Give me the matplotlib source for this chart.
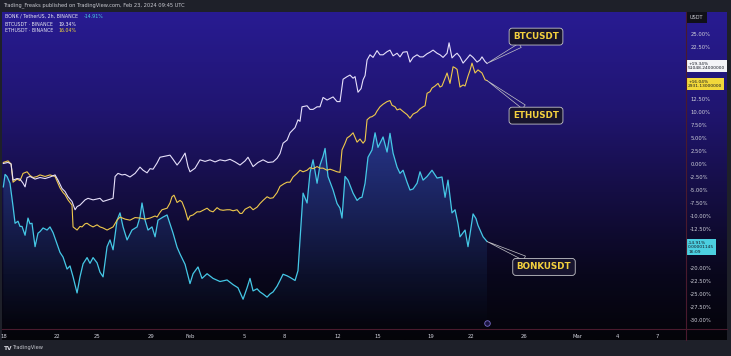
import matplotlib
matplotlib.use("Agg")
import matplotlib.pyplot as plt
import numpy as np
from matplotlib.lines import Line2D
from matplotlib.transforms import blended_transform_factory

# ---------------- data (days since 18 Jan 2024, % change) ----------------
BTC_POINTS = [
    (-0.05, 0.1), (0.30, 0.3), (0.53, 0.0), (0.68, -3.1), (0.98, -2.8), (1.20, -2.9),
    (1.43, -3.7), (1.58, -4.4), (1.73, -2.6), (1.95, -2.4), (2.33, -2.9), (2.70, -2.6),
    (3.08, -2.8), (3.45, -2.5), (3.83, -2.1), (4.05, -3.1), (4.35, -4.7), (4.58, -5.3),
    (4.80, -6.3), (5.10, -7.2), (5.33, -8.8), (5.48, -8.2), (5.70, -7.9), (6.08, -6.9),
    (6.30, -6.6), (6.68, -6.9), (7.20, -6.6), (7.43, -7.2), (7.80, -6.9), (8.18, -6.6),
    (8.33, -2.4), (8.55, -1.8), (8.85, -2.1), (9.08, -2.0), (9.45, -2.5), (9.83, -1.8),
    (10.20, -0.6), (10.43, -1.2), (10.73, -1.7), (10.95, -0.9), (11.18, -1.0), (11.48, 0.2),
    (11.70, 1.3), (12.08, 1.5), (12.45, 1.7), (12.68, 0.9), (12.98, -0.2), (13.20, 0.5),
    (13.58, 2.1), (13.80, -0.5), (13.95, -1.5), (14.33, -0.8), (14.70, 0.8), (15.08, 0.5),
    (15.45, 0.8), (15.83, 0.4), (16.20, 0.8), (16.58, 0.6), (16.95, 0.9), (17.33, 0.4),
    (17.70, -0.2), (18.08, 0.6), (18.30, 1.3), (18.68, -0.5), (19.05, 0.3), (19.43, 0.8),
    (19.80, 0.3), (20.18, 0.4), (20.48, 1.1), (20.70, 2.0), (20.93, 4.0), (21.23, 4.6),
    (21.45, 6.0), (21.83, 7.0), (22.05, 8.5), (22.20, 8.2), (22.35, 11.0), (22.73, 11.2),
    (22.95, 10.5), (23.18, 10.5), (23.48, 11.0), (23.70, 11.0), (23.93, 12.8), (24.23, 12.3),
    (24.45, 12.6), (24.68, 12.9), (24.98, 12.0), (25.20, 12.0), (25.43, 16.3), (25.73, 16.8),
    (25.95, 17.1), (26.18, 16.5), (26.33, 16.8), (26.55, 13.8), (26.78, 14.5), (26.93, 16.2),
    (27.08, 17.0), (27.23, 20.0), (27.45, 21.0), (27.68, 20.5), (27.98, 21.8), (28.20, 21.0),
    (28.43, 21.0), (28.73, 21.6), (28.95, 21.9), (29.18, 20.8), (29.48, 21.3), (29.70, 20.6),
    (29.93, 21.5), (30.23, 21.6), (30.45, 19.6), (30.68, 20.5), (30.98, 21.0), (31.20, 20.6),
    (31.43, 20.6), (31.73, 21.2), (31.95, 21.5), (32.18, 21.9), (32.48, 21.3), (32.70, 21.0),
    (32.93, 20.5), (33.23, 21.3), (33.38, 23.3), (33.60, 20.4), (33.83, 21.0), (33.98, 21.3),
    (34.20, 20.6), (34.43, 19.4), (34.73, 20.3), (34.95, 21.0), (35.18, 20.5), (35.48, 19.6),
    (35.70, 20.0), (35.85, 20.6), (36.08, 19.7), (36.23, 19.34),
]

ETH_POINTS = [
    (-0.05, 0.3), (0.30, 0.6), (0.53, 0.0), (0.68, -3.5), (0.98, -2.9), (1.20, -3.2),
    (1.43, -1.8), (1.73, -1.5), (1.95, -2.2), (2.18, -2.6), (2.48, -2.4), (2.70, -2.1),
    (3.08, -2.4), (3.45, -2.1), (3.83, -2.4), (4.20, -4.6), (4.43, -5.5), (4.58, -5.9),
    (4.80, -6.9), (5.10, -7.9), (5.18, -12.1), (5.48, -12.7), (5.70, -12.0), (5.85, -12.1),
    (6.08, -11.5), (6.23, -11.4), (6.45, -11.8), (6.68, -12.1), (6.98, -11.7), (7.20, -12.1),
    (7.43, -12.3), (7.73, -12.7), (7.95, -12.4), (8.18, -12.1), (8.48, -10.8), (8.70, -10.2),
    (9.08, -10.6), (9.45, -10.8), (9.83, -10.3), (10.20, -10.4), (10.58, -10.6), (10.95, -10.4),
    (11.33, -10.0), (11.48, -10.2), (11.70, -9.3), (11.85, -8.8), (12.23, -8.5), (12.45, -7.5),
    (12.60, -6.3), (12.75, -6.0), (12.98, -7.4), (13.20, -7.0), (13.35, -7.3), (13.58, -8.8),
    (13.80, -10.8), (13.95, -10.0), (14.18, -9.8), (14.48, -9.2), (14.70, -9.2), (14.93, -8.9),
    (15.23, -8.5), (15.45, -9.0), (15.68, -9.2), (15.98, -8.4), (16.20, -8.8), (16.43, -8.9),
    (16.73, -8.8), (16.95, -8.8), (17.18, -9.0), (17.48, -8.8), (17.70, -9.5), (17.85, -9.5),
    (18.08, -8.7), (18.23, -8.5), (18.45, -8.2), (18.68, -8.8), (18.98, -8.3), (19.20, -7.6),
    (19.43, -7.0), (19.73, -6.3), (19.95, -6.6), (20.18, -6.5), (20.48, -5.5), (20.70, -4.3),
    (21.00, -3.8), (21.23, -3.5), (21.45, -3.5), (21.68, -2.5), (21.98, -1.8), (22.20, -1.2),
    (22.43, -1.5), (22.73, -1.2), (22.95, -0.7), (23.18, -0.9), (23.48, -0.5), (23.70, -0.8),
    (23.93, -0.8), (24.23, -1.2), (24.45, -1.0), (24.68, -1.2), (24.98, -1.5), (25.20, -1.6),
    (25.35, 2.7), (25.58, 4.0), (25.73, 5.0), (25.95, 5.4), (26.18, 6.0), (26.48, 4.2),
    (26.70, 4.8), (26.93, 4.0), (27.08, 4.5), (27.23, 8.5), (27.45, 9.0), (27.60, 9.1),
    (27.83, 9.5), (27.98, 10.2), (28.20, 11.0), (28.43, 11.5), (28.73, 12.0), (28.95, 12.2),
    (29.10, 11.3), (29.33, 11.0), (29.48, 10.4), (29.70, 10.6), (29.93, 10.1), (30.23, 9.5),
    (30.45, 8.8), (30.68, 9.6), (30.98, 10.0), (31.20, 10.6), (31.43, 11.0), (31.58, 11.2),
    (31.73, 13.6), (31.95, 13.9), (32.10, 14.6), (32.33, 15.0), (32.55, 15.5), (32.70, 14.8),
    (32.85, 15.0), (33.08, 16.5), (33.23, 17.5), (33.45, 15.5), (33.68, 18.7), (33.83, 18.5),
    (33.98, 18.2), (34.20, 14.8), (34.43, 15.2), (34.58, 15.0), (34.80, 16.9), (34.95, 18.0),
    (35.10, 19.4), (35.33, 17.5), (35.55, 18.1), (35.70, 17.8), (35.85, 17.5), (36.08, 16.2),
    (36.23, 16.04),
]

BONK_POINTS = [
    (-0.05, -4.4), (0.08, -2.0), (0.23, -2.4), (0.45, -3.7), (0.68, -8.2), (0.83, -11.4),
    (1.05, -11.0), (1.20, -12.0), (1.35, -12.0), (1.58, -13.7), (1.80, -10.4), (1.95, -11.5),
    (2.10, -11.4), (2.33, -15.9), (2.55, -13.3), (2.70, -13.0), (2.93, -12.3), (3.23, -12.7),
    (3.45, -12.1), (3.68, -13.2), (3.98, -15.4), (4.20, -17.0), (4.43, -17.9), (4.73, -20.2),
    (4.95, -19.6), (5.18, -21.7), (5.48, -24.8), (5.70, -21.7), (5.93, -19.2), (6.23, -18.0),
    (6.45, -19.1), (6.68, -18.0), (6.98, -19.0), (7.20, -20.8), (7.43, -21.7), (7.73, -15.9),
    (7.95, -14.6), (8.18, -16.5), (8.48, -10.8), (8.70, -9.4), (8.93, -12.1), (9.23, -14.6),
    (9.60, -12.7), (9.98, -12.1), (10.20, -10.2), (10.35, -7.5), (10.58, -10.8), (10.80, -12.7),
    (11.10, -12.1), (11.33, -14.0), (11.55, -10.8), (11.93, -10.2), (12.23, -9.8), (12.45, -11.5),
    (12.68, -13.3), (12.98, -16.0), (13.20, -17.3), (13.58, -19.3), (13.95, -23.0), (14.18, -21.1),
    (14.55, -19.8), (14.85, -22.0), (15.23, -21.1), (15.68, -22.0), (16.20, -22.6), (16.73, -22.3),
    (17.18, -23.2), (17.55, -23.8), (17.93, -26.0), (18.23, -23.8), (18.45, -22.0), (18.68, -24.4),
    (18.98, -24.0), (19.20, -24.6), (19.43, -25.0), (19.73, -25.6), (19.95, -25.0), (20.18, -24.6),
    (20.48, -23.5), (20.70, -22.4), (20.93, -21.2), (21.23, -21.5), (21.45, -21.8), (21.83, -22.4),
    (22.05, -20.5), (22.20, -14.6), (22.43, -5.6), (22.73, -7.5), (22.95, -1.7), (23.18, 0.8),
    (23.48, -3.7), (23.70, -0.2), (23.93, 1.5), (24.08, 3.0), (24.30, -2.4), (24.68, -5.0),
    (24.98, -7.6), (25.20, -8.5), (25.35, -10.4), (25.58, -2.4), (25.80, -3.1), (26.18, -5.6),
    (26.48, -7.0), (26.70, -6.5), (26.85, -6.4), (27.08, -3.7), (27.30, 1.3), (27.60, 2.7),
    (27.83, 6.0), (28.05, 3.2), (28.43, 5.2), (28.73, 2.3), (28.95, 5.9), (29.18, 2.1),
    (29.48, -0.6), (29.70, -1.8), (29.93, -1.2), (30.23, -3.5), (30.45, -5.0), (30.68, -4.8),
    (30.98, -3.7), (31.20, -1.5), (31.43, -3.1), (31.73, -2.4), (32.10, -1.2), (32.48, -2.7),
    (32.85, -2.5), (33.08, -6.4), (33.30, -3.1), (33.60, -9.4), (33.83, -8.8), (34.05, -11.5),
    (34.20, -14.0), (34.58, -12.7), (34.80, -15.9), (34.95, -13.5), (35.18, -9.6), (35.40, -10.5),
    (35.55, -11.8), (35.93, -14.0), (36.23, -14.91),
]

X_TICK_DAYS = [0, 4, 7, 11, 14, 18, 21, 25, 28, 32, 35, 39, 43, 46, 49]
X_TICK_LABELS = ["18", "22", "25", "29", "Feb", "5", "8", "12", "15", "19", "22", "26", "Mar", "4", "7"]
# ticks whose labels are hidden behind the last-value boxes are left out
Y_TICKS = [-30.0, -27.5, -25.0, -22.5, -20.0, -12.5, -10.0, -7.5, -5.0, -2.5,
           0.0, 2.5, 5.0, 7.5, 10.0, 12.5, 22.5, 25.0]

BTC_LAST, ETH_LAST, BONK_LAST = 19.34, 16.04, -14.91
BTC_PRICE, ETH_PRICE, BONK_PRICE = "51048.24000000", "2931.13000000", "0.00001145"

btc_d, btc_v = map(np.array, zip(*BTC_POINTS))
eth_d, eth_v = map(np.array, zip(*ETH_POINTS))
bonk_d, bonk_v = map(np.array, zip(*BONK_POINTS))

# ---------------- figure ----------------
W, H = 731, 356
fig = plt.figure(figsize=(W / 100, H / 100), dpi=100, facecolor="#1e2029")


def fx(px):
    return px / W


def fy(py):
    return 1 - py / H


# background gradient (plot + price axis + time axis)
bg = fig.add_axes([fx(2), fy(340), fx(727) - fx(2), fy(12) - fy(340)])
stops = [0.0, 0.30, 0.55, 0.80, 1.0]
cols = np.array([[40, 27, 146], [32, 21, 112], [21, 14, 68], [9, 7, 28], [4, 4, 9]]) / 255
t = np.linspace(0, 1, 300)
img = np.stack([np.interp(t, stops, cols[:, k]) for k in range(3)], axis=1)[:, None, :]
bg.imshow(img, aspect="auto", extent=[0, 1, 0, 1], interpolation="bilinear")
bg.axis("off")

ax = fig.add_axes([fx(2), fy(329), fx(686) - fx(2), fy(12) - fy(329)], facecolor="none")
ax.set_xlim(-0.15, 51.15)
ax.set_ylim(-31.73, 29.23)
for s in ax.spines.values():
    s.set_visible(False)

# BONK area gradient fill
poly = ax.fill_between(bonk_d, bonk_v, -31.73, color="none", lw=0)
grad = np.zeros((200, 2, 4))
grad[..., 0] = 0.22
grad[..., 1] = 0.50
grad[..., 2] = 0.85
grad[..., 3] = np.linspace(0.32, 0.0, 200)[:, None]
im = ax.imshow(grad, aspect="auto", extent=[bonk_d.min(), bonk_d.max(), -31.73, 7.0],
               origin="upper", zorder=1, interpolation="bilinear")
path = poly.get_paths()[0]
im.set_clip_path(path, transform=ax.transData)

ax.plot(bonk_d, bonk_v, color="#45c8e6", lw=0.9, zorder=3)
ax.plot(eth_d, eth_v, color="#efc94c", lw=0.8, zorder=4)
ax.plot(btc_d, btc_v, color="#e6e0fa", lw=0.8, zorder=5)

# axes ticks
ax.yaxis.tick_right()
ax.set_yticks(Y_TICKS)
ax.set_yticklabels([f"{v:.2f}%" for v in Y_TICKS])
ax.set_xticks(X_TICK_DAYS)
ax.set_xticklabels(X_TICK_LABELS)
ax.tick_params(axis="y", length=0, pad=3, labelsize=3.8, labelcolor="#cfd0da")
ax.tick_params(axis="x", length=0, pad=3.5, labelsize=3.8, labelcolor="#cfd0da")

# price-axis value boxes
tr = blended_transform_factory(ax.transAxes, ax.transData)
box_kw = dict(transform=tr, ha="left", va="center", fontsize=3.2, color="#131722",
              linespacing=1.1, zorder=10)
ax.text(1.003, BTC_LAST - 0.5, f"+{BTC_LAST:.2f}%\n{BTC_PRICE}",
        bbox=dict(boxstyle="square,pad=0.4", fc="#f4f4f8", ec="none"), **box_kw)
ax.text(1.003, ETH_LAST - 0.6, f"+{ETH_LAST:.2f}%\n{ETH_PRICE}",
        bbox=dict(boxstyle="square,pad=0.4", fc="#f2d83a", ec="none"), **box_kw)
ax.text(1.003, BONK_LAST - 1.1, f"{BONK_LAST:.2f}%\n{BONK_PRICE}\n16:09",
        bbox=dict(boxstyle="square,pad=0.4", fc="#4ccfe0", ec="none"), **box_kw)

# callout labels
lab_kw = dict(fontsize=6.3, fontweight="bold", color="#f3d03e", ha="center", va="center",
              bbox=dict(boxstyle="round,pad=0.45,rounding_size=0.35", fc="#17142e",
                        ec="#c4c4c8", lw=0.6),
              arrowprops=dict(arrowstyle="wedge,tail_width=0.55,shrink_factor=0.5",
                              fc="none", ec="#c4c4c8", lw=0.5, shrinkA=0, shrinkB=0),
              zorder=8)
ax.annotate("BTCUSDT", xy=(btc_d[-1], btc_v[-1]), xytext=(39.9, 24.5), **lab_kw)
ax.annotate("ETHUSDT", xy=(eth_d[-1], eth_v[-1]), xytext=(39.9, 9.3), **lab_kw)
ax.annotate("BONKUSDT", xy=(bonk_d[-1], bonk_v[-1]), xytext=(40.5, -19.8), **lab_kw)

# event marker
ax.plot([bonk_d[-1]], [0.02], marker="o", ms=4, mfc="#1a1440", mec="#7b6fd0", mew=0.6,
        transform=blended_transform_factory(ax.transData, ax.transAxes), clip_on=False, zorder=9)

# separator lines
sep = "#4a1a2e"
fig.add_artist(Line2D([fx(686), fx(686)], [fy(12), fy(340)], color=sep, lw=0.8))
fig.add_artist(Line2D([fx(2), fx(727)], [fy(329), fy(329)], color=sep, lw=0.8))

# header / legend / footer texts
fig.text(fx(3), fy(5.5), "Trading_Freaks published on TradingView.com, Feb 23, 2024 09:45 UTC",
         fontsize=3.7, color="#c8c9d0", va="center", ha="left")
leg_kw = dict(fontsize=3.4, va="center", ha="left")
legend_rows = [
    ("BONK / TetherUS, 2h, BINANCE", f"{BONK_LAST:.2f}%", "#4ccfe0", 16),
    ("BTCUSDT · BINANCE", f"{BTC_LAST:.2f}%", "#f4f4f8", 24),
    ("ETHUSDT · BINANCE", f"{ETH_LAST:.2f}%", "#f2d83a", 30.5),
]
for name, val, col, ypx in legend_rows:
    t_name = fig.text(fx(5), fy(ypx), name, color="#e6e6f0", **leg_kw)
    fig.draw_without_rendering()
    fig.add_artist(plt.Annotation(val, xy=(1, 0.5), xycoords=t_name, xytext=(4, 0),
                                  textcoords="offset points", color=col, **leg_kw))

fig.text(fx(690), fy(17.5), "USDT", fontsize=3.6, color="#d0d0d8", va="center", ha="left",
         bbox=dict(boxstyle="square,pad=0.6", fc="#101018", ec="none"))
fig.text(fx(4), fy(348), "TV", fontsize=4.2, fontweight="bold", color="#d8d8e0", va="center", ha="left")
fig.text(fx(12), fy(348), "TradingView", fontsize=3.7, color="#c8c9d0", va="center", ha="left")

fig.savefig("out.png", dpi=100, facecolor=fig.get_facecolor())
